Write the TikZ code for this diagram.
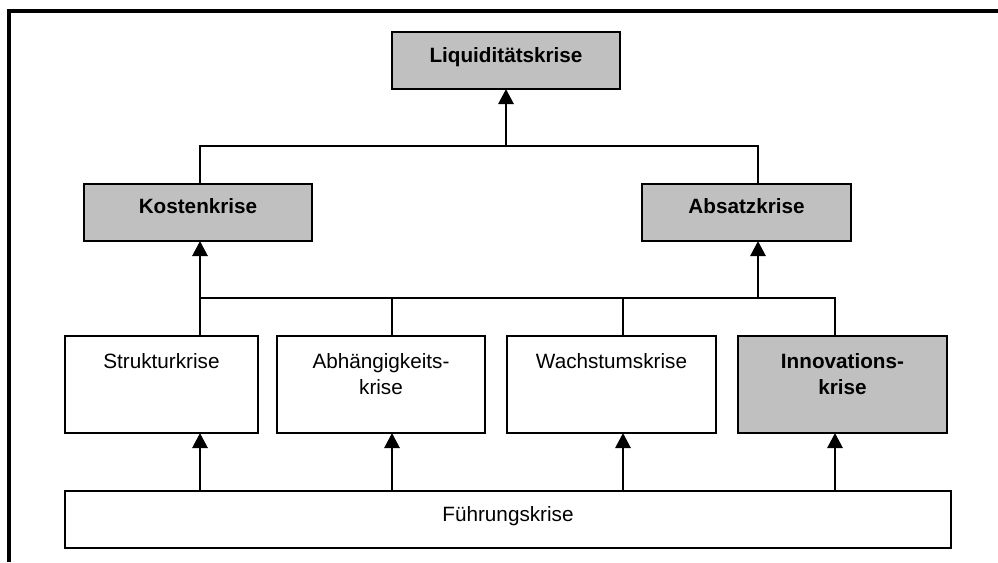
\documentclass[tikz,border=0pt]{standalone}
\usepackage{fontspec}
\setmainfont{Liberation Sans}
\usetikzlibrary{arrows.meta}
\definecolor{boxgray}{HTML}{C0C0C0}
\begin{document}
\begin{tikzpicture}[x=1pt,y=-1pt,line width=2.8pt,
  box/.style={draw=black,anchor=north west,inner sep=0pt,outer sep=0pt},
  grey/.style={box,fill=boxgray},
  white/.style={box,fill=white},
  lbl/.style={anchor=base,align=center,inner sep=0pt,
    font=\fontsize{20.7}{26}\selectfont},
  blbl/.style={lbl,font=\fontsize{20.7}{26}\selectfont\bfseries},
  arr/.style={-{Triangle[width=15pt,length=15pt]}},
  conn/.style={line cap=rect}]
\useasboundingbox (0,0) rectangle (998,562);

% outer frame (left and top edges)
\draw[line width=3.2pt] (9,562) -- (9,11) -- (998,11);

% top level
\node[grey,minimum width=228pt,minimum height=57pt] (liq) at (392,32) {};
\node[blbl] (liqt) at ([yshift=-30pt]liq.north) {Liquiditätskrise};

% second level
\node[grey,minimum width=228pt,minimum height=57pt] (kost) at (84,184) {};
\node[blbl] (kostt) at ([yshift=-29pt]kost.north) {Kostenkrise};
\node[grey,minimum width=209pt,minimum height=57pt] (abs) at (642,184) {};
\node[blbl] (abst) at ([yshift=-29pt]abs.north) {Absatzkrise};

% third level (two-line labels are anchored at their last baseline)
\node[white,minimum width=193pt,minimum height=97pt] (strk) at (65,336) {};
\node[lbl] (strkt) at ([yshift=-32pt]strk.north) {Strukturkrise};
\node[white,minimum width=208pt,minimum height=97pt] (abh) at (277,336) {};
\node[lbl] (abht) at ([yshift=-58pt]abh.north) {Abhängigkeits-\\krise};
\node[white,minimum width=209pt,minimum height=97pt] (wach) at (507,336) {};
\node[lbl] (wacht) at ([yshift=-32pt]wach.north) {Wachstumskrise};
\node[grey,minimum width=209pt,minimum height=97pt] (inno) at (738,336) {};
\node[blbl] (innot) at ([yshift=-58pt]inno.north) {Innovations-\\krise};

% base
\node[white,minimum width=886pt,minimum height=57pt] (fuehr) at (65,491) {};
\node[lbl] (fuehrt) at ([yshift=-30pt]fuehr.north) {Führungskrise};

% junction points of the two distribution lines
\coordinate (b1l) at (200,146);
\coordinate (b1r) at (758,146);
\coordinate (b1m) at (506,146);
\coordinate (c1) at (200,298);
\coordinate (c2) at (392,298);
\coordinate (c3) at (623,298);
\coordinate (c4) at (835,298);
\coordinate (ca) at (758,298);

% second level -> Liquiditätskrise
\draw[conn] (b1l |- kost.north) -- (b1l) -- (b1r) -- (b1r |- abs.north);
\draw[arr] (b1m) -- (b1m |- liq.south);

% third level -> second level
\draw[conn] (c1 |- strk.north) -- (c1) -- (c4) -- (c4 |- inno.north);
\draw (c2) -- (c2 |- abh.north);
\draw (c3) -- (c3 |- wach.north);
\draw[arr] (c1) -- (c1 |- kost.south);
\draw[arr] (ca) -- (ca |- abs.south);

% Führungskrise -> third level
\draw[arr] (c1 |- fuehr.north) -- (c1 |- strk.south);
\draw[arr] (c2 |- fuehr.north) -- (c2 |- abh.south);
\draw[arr] (c3 |- fuehr.north) -- (c3 |- wach.south);
\draw[arr] (c4 |- fuehr.north) -- (c4 |- inno.south);
\end{tikzpicture}
\end{document}
